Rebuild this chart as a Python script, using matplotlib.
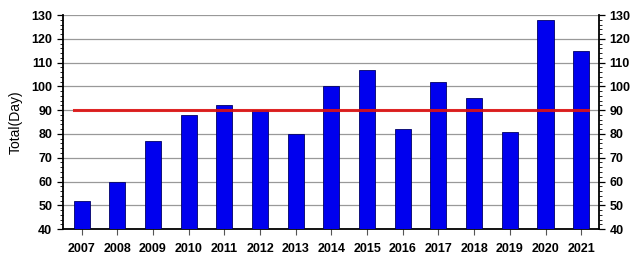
import matplotlib.pyplot as plt
from matplotlib.ticker import MultipleLocator

years = ['2007', '2008', '2009', '2010', '2011', '2012', '2013', '2014',
         '2015', '2016', '2017', '2018', '2019', '2020', '2021']
days = [52, 60, 77, 88, 92, 90, 80, 100, 107, 82, 102, 95, 81, 128, 115]
mean_line = 90

plt.rcParams['font.family'] = ['Liberation Sans', 'DejaVu Sans']

fig = plt.figure(figsize=(6.4, 2.6), dpi=100)
ax = fig.add_axes([0.098, 0.119, 0.838, 0.823])

x = list(range(len(years)))
ax.bar(x, [d - 40 for d in days], bottom=40, width=0.45, color='#0000ee',
       edgecolor='#000066', linewidth=0.6, zorder=3)
# mean line spans from just before the first bar to just past the last one
ax.plot([-0.2, len(years) - 0.8], [mean_line, mean_line], color='#dd1111',
        linewidth=2.2, zorder=4, alpha=0.9)

ax.set_xlim(-0.53, len(years) - 0.5)
ax.set_ylim(40, 130)
ax.yaxis.set_major_locator(MultipleLocator(10))
ax.yaxis.set_minor_locator(MultipleLocator(2))
ax.grid(axis='y', color='#999999', linewidth=0.9, zorder=0)
ax.set_axisbelow(True)

ax.set_xticks(x)
ax.set_xticklabels(years, fontsize=9, fontweight='bold')
ax.tick_params(axis='x', length=4, width=0.8, color='#555555', pad=6)
ax.tick_params(axis='y', which='major', length=4, width=0.9, labelsize=9,
               right=True, labelright=True)
ax.tick_params(axis='y', which='minor', length=2, width=0.6, right=True)
for lab in ax.get_yticklabels():
    lab.set_fontweight('bold')

ax.spines['top'].set_visible(False)
for s in ['left', 'right', 'bottom']:
    ax.spines[s].set_linewidth(1.3)

ax.set_ylabel('Total(Day)', fontsize=10, labelpad=6)

fig.savefig('out.png', dpi=100)
